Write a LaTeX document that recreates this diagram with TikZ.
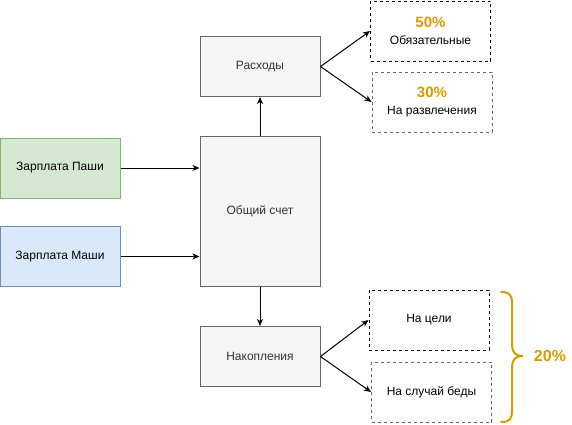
\documentclass[tikz,border=0pt]{standalone}
\usepackage{fontspec}
\setmainfont{Liberation Sans}
\usetikzlibrary{arrows.meta}
\definecolor{fondgris}{HTML}{F5F5F5}
\definecolor{bordgris}{HTML}{666666}
\definecolor{textegris}{HTML}{333333}
\definecolor{fondvert}{HTML}{D5E8D4}
\definecolor{bordvert}{HTML}{82B366}
\definecolor{fondbleu}{HTML}{DAE8FC}
\definecolor{bordbleu}{HTML}{6C8EBF}
\definecolor{orange}{HTML}{D79B00}

\begin{document}
\begin{tikzpicture}[x=1pt, y=-1pt]
 \tikzstyle{boite}=[rectangle, draw=bordgris, fill=fondgris, text=textegris, line width=1pt, minimum width=120pt, minimum height=60pt, inner sep=0pt, font=\fontsize{12}{14}\selectfont, align=center]
 \tikzstyle{pointille}=[rectangle, draw=black, line width=1pt, dash pattern=on 3pt off 3pt, minimum width=120pt, minimum height=60pt, inner sep=0pt, font=\fontsize{12}{17}\selectfont, align=center]
 \tikzstyle{pourcent}=[text=orange, font=\fontsize{16}{18}\selectfont\bfseries]
 \tikzstyle{fleche}=[-{Stealth[length=7pt, width=6pt, inset=2pt]}, line width=1pt]
 \tikzstyle{accolade}=[draw=orange, line width=2pt, line cap=round]
 \useasboundingbox (0,0) rectangle (572,424);
 %
 \node[boite, fill=fondvert, draw=bordvert, text=black] (ZP) at (60,168) {Зарплата Паши};
 \node[boite, fill=fondbleu, draw=bordbleu, text=black] (ZM) at (60,256.5) {Зарплата Маши};
 \node[boite, minimum height=150pt] (OS) at (260,211) {Общий счет};
 %
 \node[boite] (RA) at (260,66.5) {Расходы};
 \node[boite] (NA) at (260,356.5) {Накопления};
 %
 \node[pointille] (OB) at (430.5,31) {{\fontsize{15}{17}\selectfont\bfseries\color{orange}50\%}\\Обязательные};
 \node[pointille, draw=bordgris] (RZ) at (432,102) {{\fontsize{15}{17}\selectfont\bfseries\color{orange}30\%}\\На развлечения};
 \node[pointille] (NC) at (429,320) {На цели};
 \node[pointille, draw=bordgris] (SB) at (431.5,392) {На случай беды};
 %
 \node[pourcent] (P20) at (550,356) {20\%};
 %%
 \draw[fleche] (ZP.east)--(ZP.east -| OS.west);
 \draw[fleche] (ZM.east)--(ZM.east -| OS.west);
 \draw[fleche] (OS)--(RA);
 \draw[fleche] (OS)--(NA);
 \draw[fleche] (RA.east)--(OB.west);
 \draw[fleche] (RA.east)--(RZ.west);
 \draw[fleche] (NA.east)--(NC.west);
 \draw[fleche] (NA.east)--(SB.west);
 %
 \draw[accolade] (501,292) .. controls (510,292) and (512,295) .. (512,304) -- (512,345)
   .. controls (512,352) and (515,356) .. (523,356)
   .. controls (515,356) and (512,360) .. (512,367) -- (512,410)
   .. controls (512,419) and (510,422) .. (501,422);
\end{tikzpicture}
\end{document}
